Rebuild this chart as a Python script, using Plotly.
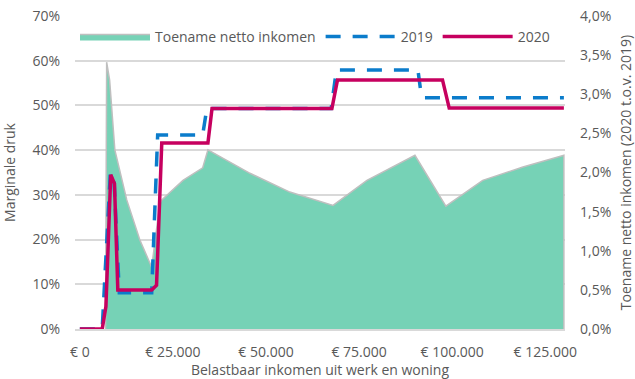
import plotly.graph_objects as go

# Marginale druk (%) per belastbaar inkomen, 2019 en 2020
income_2019 = [0, 6000, 8200, 9200, 10600, 19300, 20900, 33000, 34100, 67500, 68900, 90800, 91700, 92500, 130000]
md_2019 = [0, 0, 35.0, 33.0, 8.1, 8.1, 43.4, 43.4, 49.3, 49.3, 57.9, 57.9, 52.3, 51.7, 51.7]

income_2020 = [0, 6000, 7000, 8300, 9300, 10200, 19300, 20600, 22000, 34400, 35500, 67700, 69200, 97400, 99200, 130000]
md_2020 = [0, 0, 5.0, 34.5, 32.5, 8.7, 8.7, 9.8, 41.6, 41.6, 49.3, 49.3, 55.7, 55.7, 49.4, 49.4]

# Toename netto inkomen (%), 2020 t.o.v. 2019
income_gain = [6900, 7200, 8000, 9400, 12600, 16100, 19300, 21500, 22000, 27700, 33000, 34400,
               45700, 56400, 68000, 77100, 90000, 98300, 108200, 119000, 130000]
gain = [0, 3.41, 3.18, 2.29, 1.65, 1.14, 0.79, 1.61, 1.65, 1.90, 2.06, 2.29,
        1.99, 1.75, 1.58, 1.90, 2.22, 1.57, 1.90, 2.07, 2.22]

x_ticks = [0, 25000, 50000, 75000, 100000, 125000]
left_ticks = [0, 10, 20, 30, 40, 50, 60, 70]
right_ticks = [0, 0.5, 1.0, 1.5, 2.0, 2.5, 3.0, 3.5, 4.0]

x_labels = ["€ " + f"{v:,}".replace(",", ".") for v in x_ticks]
left_labels = [f"{v}%" for v in left_ticks]
right_labels = [f"{v:.1f}%".replace(".", ",") for v in right_ticks]

TEAL = "#76D2B6"
OUTLINE = "#BFBFBF"
BLUE = "#0B7CCB"
PINK = "#C6005F"
GRID = "#D9D9D9"
TEXT = "#595959"
FONT = "Open Sans"

# close the area polygon back down to the baseline
area_x = income_gain + [income_gain[-1]]
area_y = gain + [0]

fig = go.Figure()
fig.add_trace(go.Scatter(
    x=area_x, y=area_y, mode="lines", fill="toself", fillcolor=TEAL,
    line=dict(color=OUTLINE, width=1.5), name="Toename netto inkomen", yaxis="y",
    hoverinfo="skip",
))
fig.add_trace(go.Scatter(
    x=income_2019, y=md_2019, mode="lines", name="2019", yaxis="y2",
    line=dict(color=BLUE, width=3.5, dash="15px,12px"),
))
fig.add_trace(go.Scatter(
    x=income_2020, y=md_2020, mode="lines", name="2020", yaxis="y2",
    line=dict(color=PINK, width=3.5),
))

fig.update_layout(
    width=635, height=379,
    margin=dict(l=75, r=70, t=16, b=50),
    paper_bgcolor="white", plot_bgcolor="white",
    separators=",.",
    font=dict(family=FONT, size=14, color=TEXT),
    showlegend=True,
    legend=dict(
        orientation="h", x=0, xanchor="left", y=0.933, yanchor="middle",
        bgcolor="rgba(0,0,0,0)", itemwidth=70, font=dict(size=14, color=TEXT),
        traceorder="normal", tracegroupgap=0,
    ),
    xaxis=dict(
        range=[-1300, 130300], tickmode="array", tickvals=x_ticks, ticktext=x_labels,
        showgrid=False, zeroline=False, showline=True, linecolor=GRID, linewidth=2,
        ticks="", ticklabelstandoff=9, automargin=False,
        title=dict(text="Belastbaar inkomen uit werk en woning", standoff=0,
                   font=dict(size=14, color=TEXT)),
    ),
    yaxis=dict(
        side="right", range=[0, 4], tickmode="array", tickvals=right_ticks, ticktext=right_labels,
        showgrid=False, zeroline=False, ticks="", ticklabelstandoff=14, automargin=False,
        title=dict(text="Toename netto inkomen (2020 t.o.v. 2019)", standoff=14,
                   font=dict(size=14, color=TEXT)),
    ),
    yaxis2=dict(
        overlaying="y", side="left", range=[0, 70], tickmode="array", tickvals=left_ticks,
        ticktext=left_labels, showgrid=True, gridcolor=GRID, gridwidth=1.5, zeroline=False,
        ticks="", ticklabelstandoff=14, automargin=False,
        title=dict(text="Marginale druk", standoff=14, font=dict(size=14, color=TEXT)),
    ),
)

fig.write_html("out.html")
